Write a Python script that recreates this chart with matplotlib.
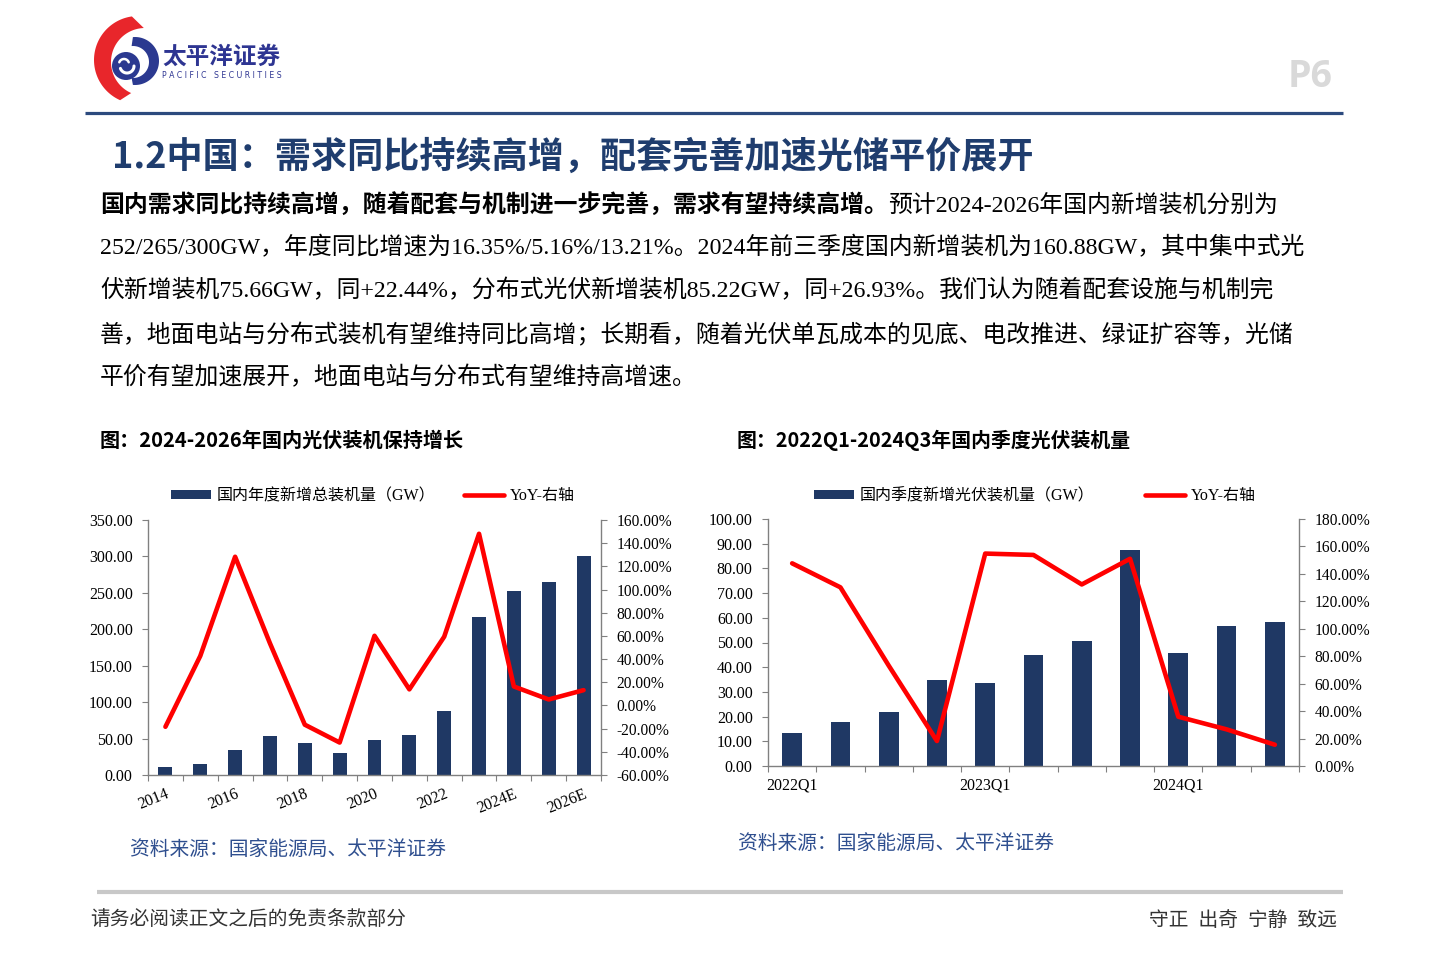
import matplotlib
matplotlib.use('Agg')
import matplotlib.pyplot as plt
import numpy as np
from matplotlib.patches import Circle, Polygon
from matplotlib.ticker import FuncFormatter, MultipleLocator, FixedLocator
from matplotlib.font_manager import FontProperties

# ---------------- data ----------------
years = ['2014', '2015', '2016', '2017', '2018', '2019', '2020', '2021', '2022', '2023', '2024E', '2025E', '2026E']
annual_gw = [10.6, 15.13, 34.54, 53.06, 44.26, 30.11, 48.2, 54.88, 87.41, 216.88, 252.0, 265.0, 300.0]
annual_yoy = [-18.4, 42.7, 128.3, 53.6, -16.6, -32.0, 60.1, 13.9, 59.3, 148.1, 16.35, 5.16, 13.21]
annual_xlabels = ['2014', '', '2016', '', '2018', '', '2020', '', '2022', '', '2024E', '', '2026E']

quarters = ['2022Q1', '2022Q2', '2022Q3', '2022Q4', '2023Q1', '2023Q2', '2023Q3', '2023Q4', '2024Q1', '2024Q2', '2024Q3']
quarter_gw = [13.21, 17.67, 21.74, 34.79, 33.66, 44.85, 50.5, 87.3, 45.74, 56.81, 58.33]
quarter_yoy = [147.7, 130.2, 73.2, 18.2, 154.8, 153.8, 132.3, 151.0, 35.9, 26.7, 15.5]
quarter_xlabels = ['2022Q1', '', '', '', '2023Q1', '', '', '', '2024Q1', '', '']

legend_annual = '国内年度新增总装机量（GW）'
legend_quarter = '国内季度新增光伏装机量（GW）'
legend_yoy = 'YoY-右轴'

title_main = '1.2中国：需求同比持续高增，配套完善加速光储平价展开'
body_bold = '国内需求同比持续高增，随着配套与机制进一步完善，需求有望持续高增。'
body_lines = [
    '预计2024-2026年国内新增装机分别为',
    '252/265/300GW，年度同比增速为16.35%/5.16%/13.21%。2024年前三季度国内新增装机为160.88GW，其中集中式光',
    '伏新增装机75.66GW，同+22.44%，分布式光伏新增装机85.22GW，同+26.93%。我们认为随着配套设施与机制完',
    '善，地面电站与分布式装机有望维持同比高增；长期看，随着光伏单瓦成本的见底、电改推进、绿证扩容等，光储',
    '平价有望加速展开，地面电站与分布式有望维持高增速。',
]
chart_title_left = '图：2024-2026年国内光伏装机保持增长'
chart_title_right = '图：2022Q1-2024Q3年国内季度光伏装机量'
source_text = '资料来源：国家能源局、太平洋证券'
footer_left = '请务必阅读正文之后的免责条款部分'
footer_right = '守正  出奇  宁静  致远'

# ---------------- style ----------------
W, H = 1440, 965
NAVY = '#1F3864'
RED = '#FF0000'
SERIF = ['Liberation Serif', 'Noto Sans CJK SC']
CJK = ['Noto Sans CJK SC', 'DejaVu Sans']
plt.rcParams['font.family'] = SERIF
plt.rcParams['axes.unicode_minus'] = False

fig = plt.figure(figsize=(14.4, 9.65), dpi=100)
fig.patch.set_facecolor('white')
bg = fig.add_axes([0, 0, 1, 1])
bg.set_xlim(0, W)
bg.set_ylim(H, 0)
bg.axis('off')

# ---------------- logo ----------------
def arc_pts(cx, cy, r, a0, a1, n=60):
    a = np.radians(np.linspace(a0, a1, n))
    return np.column_stack([cx + r * np.cos(a), cy - r * np.sin(a)])

outer = arc_pts(138, 60, 44, 98, 246)
inner = arc_pts(145, 62, 34, 246, 92)
bg.add_patch(Polygon(np.vstack([outer, inner]), closed=True, color='#E8262B', lw=0))
ring_o = arc_pts(135, 61, 24, 95, -95)
ring_i = arc_pts(133, 62, 16, -95, 95)
bg.add_patch(Polygon(np.vstack([ring_o, ring_i]), closed=True, color='#2B3990', lw=0))
bg.add_patch(Circle((126, 66), 14, color='#2B3990', lw=0))
sw = arc_pts(127, 66, 7, 200, 360)
bg.plot(sw[:, 0], sw[:, 1], color='white', lw=2.2, solid_capstyle='round')
sw2 = arc_pts(124, 64, 5, 20, 160)
bg.plot(sw2[:, 0], sw2[:, 1], color='white', lw=1.8, solid_capstyle='round')
bg.text(162, 57, '太平洋证券', fontsize=17, fontweight='bold', color='#2E3592',
        family=CJK, va='center', ha='left')
bg.text(162, 75, 'P A C I F I C   S E C U R I T I E S', fontsize=5.6, color='#2E3592',
        family=['DejaVu Sans'], va='center', ha='left')

bg.text(1310, 77, 'P6', fontsize=27, fontweight='bold', color='#D9D9D9',
        family=['Open Sans', 'DejaVu Sans'], va='center', ha='center')

bg.plot([85, 1343], [113, 113], color='#2C4A7E', lw=2.3, solid_capstyle='butt')

# ---------------- title & body ----------------
bg.text(112, 157, title_main, fontsize=26, fontweight='bold', color='#1F3D6E',
        family=CJK, va='center', ha='left')

BODY_FS = 17.2
ys = [205, 248, 291, 335, 378]
tb = bg.text(100, ys[0], body_bold, fontsize=BODY_FS, fontweight='bold', family=SERIF,
             va='center', ha='left', color='black')
renderer = fig.canvas.get_renderer()
bb = tb.get_window_extent(renderer)
bg.text(bb.x1, ys[0], body_lines[0], fontsize=BODY_FS, family=SERIF, va='center', ha='left', color='black')
for y, s in zip(ys[1:], body_lines[1:]):
    bg.text(100, y, s, fontsize=BODY_FS, family=SERIF, va='center', ha='left', color='black')

bg.text(100, 440, chart_title_left, fontsize=14.5, fontweight='bold', family=CJK, va='center', ha='left')
bg.text(737, 440, chart_title_right, fontsize=14.3, fontweight='bold', family=CJK, va='center', ha='left')

bg.text(130, 849, source_text, fontsize=14.2, style='italic', color='#2F4F8F', family=CJK, va='center', ha='left')
bg.text(738, 843, source_text, fontsize=14.2, style='italic', color='#2F4F8F', family=CJK, va='center', ha='left')

bg.plot([97, 1343], [892, 892], color='#C8C8C8', lw=3, solid_capstyle='butt')
bg.text(90, 921, footer_left, fontsize=14.2, color='#333333', family=SERIF, va='center', ha='left')
bg.text(1337, 921, footer_right, fontsize=14.2, color='#333333', family=SERIF, va='center', ha='right')


# ---------------- charts ----------------
def px_rect(x0, x1, ytop, ybot):
    return [x0 / W, (H - ybot) / H, (x1 - x0) / W, (ybot - ytop) / H]


def make_chart(rect, cats, bars, yoy, xlabels, lim_l, step_l, lim_r, step_r,
               bar_label, bar_w, rot, legend_xy, colsp):
    ax = fig.add_axes(rect)
    ax.patch.set_alpha(0)
    x = np.arange(len(cats))
    ax.bar(x, bars, width=bar_w, color=NAVY, zorder=2, label=bar_label)
    ax.set_xlim(-0.5, len(cats) - 0.5)
    ax.set_ylim(*lim_l)
    ax.yaxis.set_major_locator(MultipleLocator(step_l))
    ax.yaxis.set_major_formatter(FuncFormatter(lambda v, p: f'{v:.2f}'))
    ax.set_xticks(x)
    ax.set_xticklabels(xlabels)
    ax.xaxis.set_minor_locator(FixedLocator(np.arange(-0.5, len(cats), 1.0)))
    ax.tick_params(axis='x', which='major', length=0, labelsize=11.5, pad=8)
    ax.tick_params(axis='x', which='minor', length=4, width=0.8, color='#808080', direction='out')
    ax.tick_params(axis='y', length=4, width=0.8, color='#808080', labelsize=11.5, pad=7)
    if rot:
        plt.setp(ax.get_xticklabels(), rotation=rot, ha='right', rotation_mode='anchor')
    for s in ['top', 'right']:
        ax.spines[s].set_visible(False)
    for s in ['left', 'bottom']:
        ax.spines[s].set_color('#808080')
        ax.spines[s].set_linewidth(1)

    ax2 = ax.twinx()
    ax2.plot(x, yoy, color=RED, lw=3.3, solid_joinstyle='round', solid_capstyle='round', label=legend_yoy)
    ax2.set_ylim(*lim_r)
    ax2.yaxis.set_major_locator(MultipleLocator(step_r))
    ax2.yaxis.set_major_formatter(FuncFormatter(lambda v, p: f'{v:.2f}%'))
    ax2.tick_params(axis='y', length=4, width=0.8, color='#808080', labelsize=11.2, pad=7)
    for s in ['top', 'left', 'bottom']:
        ax2.spines[s].set_visible(False)
    ax2.spines['right'].set_color('#808080')
    ax2.spines['right'].set_linewidth(1)

    h1, l1 = ax.get_legend_handles_labels()
    h2, l2 = ax2.get_legend_handles_labels()
    fig.legend(h1 + h2, l1 + l2, loc='center left',
               bbox_to_anchor=(legend_xy[0] / W, 1 - legend_xy[1] / H),
               ncol=2, frameon=False, borderpad=0, borderaxespad=0,
               handlelength=2.5, handleheight=0.45, handletextpad=0.35,
               columnspacing=colsp, prop=FontProperties(family=SERIF, size=11.5))
    return ax, ax2


make_chart(px_rect(148, 601, 520, 775), years, annual_gw, annual_yoy, annual_xlabels,
           (0, 350), 50, (-60, 160), 20, legend_annual, 0.4, 22, (171, 496), 1.8)
make_chart(px_rect(768, 1299, 519, 766), quarters, quarter_gw, quarter_yoy, quarter_xlabels,
           (0, 100), 10, (0, 180), 20, legend_quarter, 0.41, 0, (814, 496), 3.2)

fig.savefig('out.png', dpi=100, facecolor='white')
